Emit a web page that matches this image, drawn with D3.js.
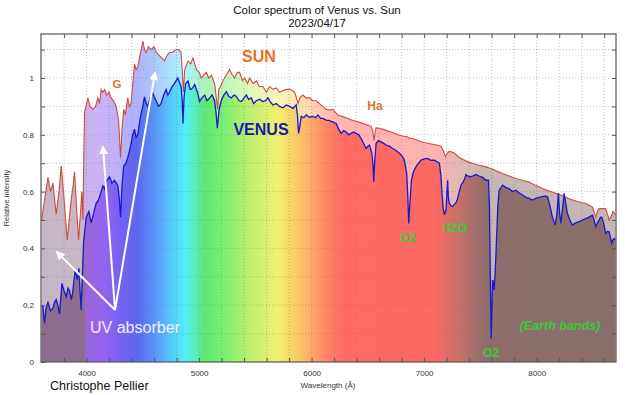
<!DOCTYPE html>
<html>
<head>
<meta charset="utf-8">
<title>Color spectrum of Venus vs. Sun</title>
<script src="https://d3js.org/d3.v7.min.js"></script>
<style>
  body { margin: 0; background: #fff; }
  text { font-family: "Liberation Sans", Arial, sans-serif; }
</style>
</head>
<body>
<svg width="625" height="395"></svg>
<script>
// wavelength (Å) and relative intensity
var sunWl = [3600,3630,3657,3680,3701,3730,3755,3775,3795,3810,3828,3845,3863,3880,3893,3910,3929,3945,3958,3968,3975,3982,4012,4030,4056,4080,4100,4115,4130,4145,4160,4180,4200,4218,4240,4263,4285,4302,4315,4330,4345,4366,4380,4395,4410,4426,4440,4455,4475,4500,4515,4530,4550,4573,4600,4620,4645,4670,4692,4715,4737,4765,4795,4820,4840,4850,4860,4872,4902,4925,4946,4976,5000,5020,5040,5064,5085,5109,5138,5150,5165,5175,5190,5212,5240,5271,5295,5316,5340,5360,5385,5405,5430,5449,5480,5508,5535,5567,5597,5627,5655,5686,5715,5745,5775,5804,5830,5849,5865,5880,5895,5923,5950,5982,6010,6041,6070,6100,6129,6159,6188,6210,6232,6270,6306,6350,6395,6440,6484,6528,6545,6555,6565,6573,6600,6632,6680,6720,6770,6809,6850,6868,6890,6957,7000,7075,7120,7149,7170,7188,7205,7223,7260,7290,7312,7350,7401,7430,7490,7548,7607,7650,7697,7750,7815,7870,7933,7990,8052,8110,8170,8230,8288,8360,8436,8495,8510,8525,8540,8554,8580,8613,8630,8643,8660,8678,8700];
var sunVal = [0.50,0.58,0.65,0.60,0.63,0.52,0.60,0.69,0.60,0.52,0.43,0.50,0.57,0.62,0.67,0.55,0.43,0.52,0.60,0.50,0.72,0.88,0.93,0.90,0.89,0.90,0.93,0.91,0.96,0.95,0.96,0.94,0.95,0.93,0.92,0.90,0.85,0.72,0.82,0.89,0.87,0.93,0.90,0.91,0.98,1.05,1.03,1.04,1.08,1.13,1.10,1.09,1.11,1.10,1.11,1.09,1.08,1.07,1.06,1.08,1.09,1.09,1.10,1.10,1.09,1.03,0.95,1.03,1.06,1.05,1.07,1.03,1.02,1.00,1.01,1.02,1.00,1.01,0.98,0.94,0.89,0.96,0.97,0.99,1.01,1.03,1.01,1.00,1.02,1.02,0.99,1.00,0.98,1.00,0.98,0.99,0.97,0.97,0.95,0.97,0.96,0.965,0.95,0.955,0.96,0.96,0.955,0.95,0.93,0.91,0.93,0.94,0.93,0.93,0.92,0.92,0.91,0.90,0.89,0.887,0.89,0.88,0.87,0.865,0.86,0.853,0.848,0.842,0.836,0.83,0.81,0.78,0.81,0.825,0.822,0.82,0.813,0.808,0.80,0.796,0.793,0.788,0.788,0.778,0.773,0.767,0.763,0.76,0.745,0.723,0.735,0.742,0.738,0.728,0.72,0.712,0.703,0.70,0.693,0.687,0.68,0.672,0.664,0.656,0.646,0.64,0.634,0.622,0.611,0.602,0.594,0.585,0.575,0.565,0.558,0.546,0.53,0.51,0.53,0.54,0.54,0.54,0.52,0.50,0.51,0.53,0.52];

var venusWl = [3600,3612,3627,3640,3657,3680,3701,3715,3730,3745,3760,3781,3800,3819,3835,3849,3865,3878,3899,3917,3932,3942,3952,3962,3973,3997,4020,4041,4060,4085,4105,4130,4145,4160,4180,4204,4225,4248,4265,4278,4292,4302,4315,4330,4350,4366,4380,4396,4410,4426,4440,4455,4470,4485,4500,4514,4530,4544,4565,4588,4605,4618,4640,4662,4685,4707,4722,4737,4760,4780,4810,4830,4840,4850,4857,4866,4880,4902,4920,4931,4950,4961,4985,5005,5025,5050,5070,5094,5115,5138,5150,5162,5178,5197,5220,5242,5265,5286,5310,5331,5355,5375,5400,5420,5440,5464,5485,5508,5540,5567,5590,5612,5635,5656,5685,5715,5745,5775,5805,5834,5863,5874,5884,5895,5908,5930,5952,5980,6011,6035,6056,6080,6100,6130,6159,6190,6218,6240,6262,6285,6306,6330,6351,6375,6395,6420,6440,6462,6484,6500,6514,6535,6545,6552,6560,6573,6595,6617,6640,6661,6690,6720,6750,6780,6805,6824,6845,6855,6863,6872,6887,6905,6928,6950,6973,7000,7032,7060,7091,7115,7135,7148,7159,7170,7180,7194,7203,7209,7215,7223,7238,7253,7268,7282,7297,7312,7330,7341,7360,7371,7386,7410,7430,7460,7489,7520,7548,7572,7580,7588,7596,7603,7608,7615,7623,7633,7643,7655,7667,7697,7725,7756,7785,7815,7845,7874,7905,7933,7962,7992,8020,8052,8075,8096,8118,8140,8164,8180,8193,8203,8214,8230,8244,8258,8273,8295,8317,8345,8377,8405,8436,8465,8495,8510,8525,8540,8554,8568,8578,8595,8613,8628,8643,8655,8667,8678,8688,8700];
var venusVal = [0.20,0.195,0.137,0.19,0.21,0.18,0.19,0.21,0.22,0.20,0.17,0.277,0.25,0.23,0.26,0.25,0.22,0.25,0.324,0.29,0.33,0.25,0.183,0.30,0.42,0.51,0.53,0.49,0.52,0.559,0.57,0.60,0.62,0.61,0.64,0.652,0.63,0.64,0.63,0.62,0.57,0.51,0.62,0.69,0.70,0.72,0.74,0.77,0.80,0.82,0.79,0.80,0.84,0.876,0.90,0.934,0.91,0.90,0.93,0.947,0.93,0.92,0.90,0.91,0.94,0.96,0.94,0.95,0.97,0.98,1.00,0.98,0.97,0.92,0.84,0.93,0.98,0.99,0.96,0.96,0.97,0.977,0.95,0.917,0.93,0.94,0.92,0.93,0.94,0.92,0.88,0.823,0.89,0.92,0.94,0.952,0.935,0.93,0.94,0.935,0.92,0.917,0.93,0.94,0.925,0.93,0.91,0.92,0.925,0.917,0.92,0.93,0.915,0.905,0.91,0.90,0.895,0.905,0.90,0.893,0.905,0.87,0.805,0.83,0.865,0.86,0.87,0.862,0.865,0.86,0.87,0.858,0.858,0.852,0.85,0.845,0.84,0.82,0.805,0.815,0.81,0.80,0.805,0.81,0.805,0.80,0.787,0.77,0.752,0.76,0.764,0.735,0.70,0.635,0.70,0.77,0.78,0.775,0.77,0.764,0.76,0.752,0.745,0.735,0.725,0.711,0.664,0.58,0.488,0.55,0.64,0.67,0.688,0.70,0.711,0.715,0.717,0.71,0.711,0.705,0.70,0.66,0.594,0.54,0.518,0.535,0.60,0.64,0.58,0.56,0.55,0.547,0.555,0.56,0.575,0.60,0.625,0.63,0.645,0.66,0.655,0.652,0.655,0.66,0.655,0.65,0.64,0.64,0.55,0.30,0.083,0.20,0.289,0.28,0.254,0.33,0.43,0.55,0.605,0.623,0.615,0.61,0.60,0.605,0.595,0.588,0.58,0.576,0.57,0.576,0.58,0.582,0.585,0.582,0.55,0.51,0.482,0.52,0.594,0.53,0.488,0.54,0.594,0.56,0.524,0.50,0.482,0.49,0.494,0.50,0.505,0.51,0.517,0.50,0.476,0.49,0.50,0.51,0.51,0.49,0.453,0.46,0.459,0.44,0.418,0.43,0.435,0.43];

var xTicks = d3.range(3600, 8700, 200);
var xLabels = [4000, 5000, 6000, 7000, 8000];
var yTicks = d3.range(0, 1.15, 0.1);
var yLabels = [0, 0.2, 0.4, 0.6, 0.8, 1];

// colour of the spectrum by wavelength
var spectrumWl = [3600,3975,3995,4150,4300,4450,4600,4750,4880,4980,5050,5250,5450,5700,5850,6000,6150,6300,7100,7300,7550,8700];
var spectrumColor = ["#8c6e8c","#8e6e90","#9a66dc","#9464f2","#7660f4","#5a68f2","#5a92f8","#58c8fa","#50eef8","#58ecb0","#5ce870","#80f070","#c0f070","#f0f070","#f8d068","#ffa868","#ff8066","#ff6a64","#fc6862","#c87068","#8e6e6a","#8a6e6a"];

var svg = d3.select("svg");
var margin = {top: 34, right: 9, bottom: 33, left: 41};
var x = d3.scaleLinear().domain([3595, 8705]).range([margin.left, 625 - margin.right]);
var y = d3.scaleLinear().domain([0, 1.155]).range([395 - margin.bottom, margin.top]);

var defs = svg.append("defs");
var grad = defs.append("linearGradient")
    .attr("id", "spec")
    .attr("gradientUnits", "userSpaceOnUse")
    .attr("x1", x(3600)).attr("x2", x(8700))
    .attr("y1", 0).attr("y2", 0);
spectrumWl.forEach(function (w, i) {
    grad.append("stop")
        .attr("offset", (w - 3600) / 5100)
        .attr("stop-color", spectrumColor[i]);
});
defs.append("clipPath").attr("id", "plot")
    .append("rect")
    .attr("x", x.range()[0]).attr("y", y.range()[1])
    .attr("width", x.range()[1] - x.range()[0])
    .attr("height", y.range()[0] - y.range()[1]);
defs.append("marker")
    .attr("id", "head")
    .attr("viewBox", "0 0 10 10")
    .attr("refX", 8).attr("refY", 5)
    .attr("markerWidth", 4.5).attr("markerHeight", 4.5)
    .attr("orient", "auto")
    .append("path")
    .attr("d", "M0,0L10,5L0,10Z")
    .attr("fill", "#fff");

var sun = sunWl.map(function (w, i) { return [w, sunVal[i]]; });
var venus = venusWl.map(function (w, i) { return [w, venusVal[i]]; });

var plot = svg.append("g").attr("clip-path", "url(#plot)");

var area = d3.area()
    .x(function (d) { return x(d[0]); })
    .y0(y(0))
    .y1(function (d) { return y(d[1]); });
var line = d3.line()
    .x(function (d) { return x(d[0]); })
    .y(function (d) { return y(d[1]); });

plot.append("path").datum(sun)
    .attr("d", area)
    .attr("fill", "url(#spec)")
    .attr("fill-opacity", 0.5);
plot.append("path").datum(venus)
    .attr("d", area)
    .attr("fill", "url(#spec)");

// dotted grid
plot.append("g").selectAll("line").data(xTicks.slice(1)).enter().append("line")
    .attr("x1", function (d) { return x(d); }).attr("x2", function (d) { return x(d); })
    .attr("y1", y.range()[0]).attr("y2", y.range()[1]);
plot.append("g").selectAll("line").data(yTicks.slice(1)).enter().append("line")
    .attr("y1", function (d) { return y(d); }).attr("y2", function (d) { return y(d); })
    .attr("x1", x.range()[0]).attr("x2", x.range()[1]);
plot.selectAll("g line")
    .attr("stroke", "#7a7a7a")
    .attr("stroke-opacity", 0.45)
    .attr("stroke-dasharray", "1,2");

plot.append("path").datum(sun)
    .attr("d", line)
    .attr("fill", "none")
    .attr("stroke", "#d04a42")
    .attr("stroke-width", 1.1);
plot.append("path").datum(venus)
    .attr("d", line)
    .attr("fill", "none")
    .attr("stroke", "#1818cc")
    .attr("stroke-width", 1.3);

// axes, ticks pointing inward
var fmt = function (d) { return xLabels.indexOf(d) >= 0 ? d : ""; };
var yfmt = function (d) {
    var r = Math.round(d * 10) / 10;
    return yLabels.indexOf(r) >= 0 ? d3.format("~g")(r) : "";
};
function styleAxis(g) {
    g.select(".domain").remove();
    g.selectAll("line").attr("stroke", "#555");
    g.selectAll("text").attr("fill", "#333").style("font-size", "8px");
}
svg.append("g").attr("transform", "translate(0," + y.range()[0] + ")")
    .call(d3.axisBottom(x).tickValues(xTicks.slice(1)).tickSizeInner(-4).tickSizeOuter(0).tickPadding(8).tickFormat(fmt))
    .call(styleAxis);
svg.append("g").attr("transform", "translate(0," + y.range()[1] + ")")
    .call(d3.axisTop(x).tickValues(xTicks.slice(1)).tickSizeInner(-4).tickSizeOuter(0).tickFormat(""))
    .call(styleAxis);
svg.append("g").attr("transform", "translate(" + x.range()[0] + ",0)")
    .call(d3.axisLeft(y).tickValues(yTicks).tickSizeInner(-4).tickSizeOuter(0).tickPadding(7).tickFormat(yfmt))
    .call(styleAxis);
svg.append("g").attr("transform", "translate(" + x.range()[1] + ",0)")
    .call(d3.axisRight(y).tickValues(yTicks.slice(1)).tickSizeInner(-4).tickSizeOuter(0).tickFormat(""))
    .call(styleAxis);

svg.append("rect")
    .attr("x", x.range()[0]).attr("y", y.range()[1])
    .attr("width", x.range()[1] - x.range()[0])
    .attr("height", y.range()[0] - y.range()[1])
    .attr("fill", "none")
    .attr("stroke", "#555")
    .attr("stroke-width", 1.2);

// titles
svg.append("text").attr("x", 317).attr("y", 14).attr("text-anchor", "middle")
    .style("font-size", "11.5px").attr("fill", "#111")
    .text("Color spectrum of Venus vs. Sun");
svg.append("text").attr("x", 317).attr("y", 27).attr("text-anchor", "middle")
    .style("font-size", "11.5px").attr("fill", "#111")
    .text("2023/04/17");
svg.append("text").attr("x", 328).attr("y", 388).attr("text-anchor", "middle")
    .style("font-size", "8px").attr("fill", "#333")
    .text("Wavelength (Å)");
svg.append("text").attr("transform", "translate(9,198) rotate(-90)").attr("text-anchor", "middle")
    .style("font-size", "7.5px").attr("fill", "#333")
    .text("Relative intensity");
svg.append("text").attr("x", 50).attr("y", 390)
    .style("font-size", "12.5px").attr("fill", "#111")
    .text("Christophe Pellier");

// annotations
var notes = [
    {t: "SUN", w: 5532, v: 1.056, c: "#e8731e", s: 16, b: true},
    {t: "G", w: 4270, v: 0.965, c: "#e8731e", s: 11.5, b: true},
    {t: "Ha", w: 6563, v: 0.887, c: "#e0732a", s: 12, b: true},
    {t: "VENUS", w: 5550, v: 0.799, c: "#1a1aa8", s: 16, b: true},
    {t: "O2", w: 6856, v: 0.423, c: "#3ec83a", s: 12.5, b: true},
    {t: "H2O", w: 7274, v: 0.458, c: "#3ec83a", s: 12, b: true},
    {t: "O2", w: 7594, v: 0.018, c: "#3ec83a", s: 12.5, b: true},
    {t: "(Earth bands)", w: 8207, v: 0.113, c: "#3ec83a", s: 12.5, b: true, i: true},
    {t: "UV absorber", w: 4430, v: 0.102, c: "#f4ecfa", s: 16, b: false}
];
svg.append("g").selectAll("text").data(notes).enter().append("text")
    .attr("x", function (d) { return x(d.w); })
    .attr("y", function (d) { return y(d.v); })
    .attr("text-anchor", "middle")
    .attr("fill", function (d) { return d.c; })
    .style("font-size", function (d) { return d.s + "px"; })
    .style("font-weight", function (d) { return d.b ? "bold" : "normal"; })
    .style("font-style", function (d) { return d.i ? "italic" : "normal"; })
    .text(function (d) { return d.t; });

// white arrows from the "UV absorber" label
var arrowFrom = [4253, 0.183];
var arrowTo = [[3737, 0.387], [4146, 0.757], [4608, 1.018]];
svg.append("g").selectAll("line").data(arrowTo).enter().append("line")
    .attr("x1", x(arrowFrom[0])).attr("y1", y(arrowFrom[1]))
    .attr("x2", function (d) { return x(d[0]); })
    .attr("y2", function (d) { return y(d[1]); })
    .attr("stroke", "#fff")
    .attr("stroke-width", 2)
    .attr("marker-end", "url(#head)");
</script>
</body>
</html>
